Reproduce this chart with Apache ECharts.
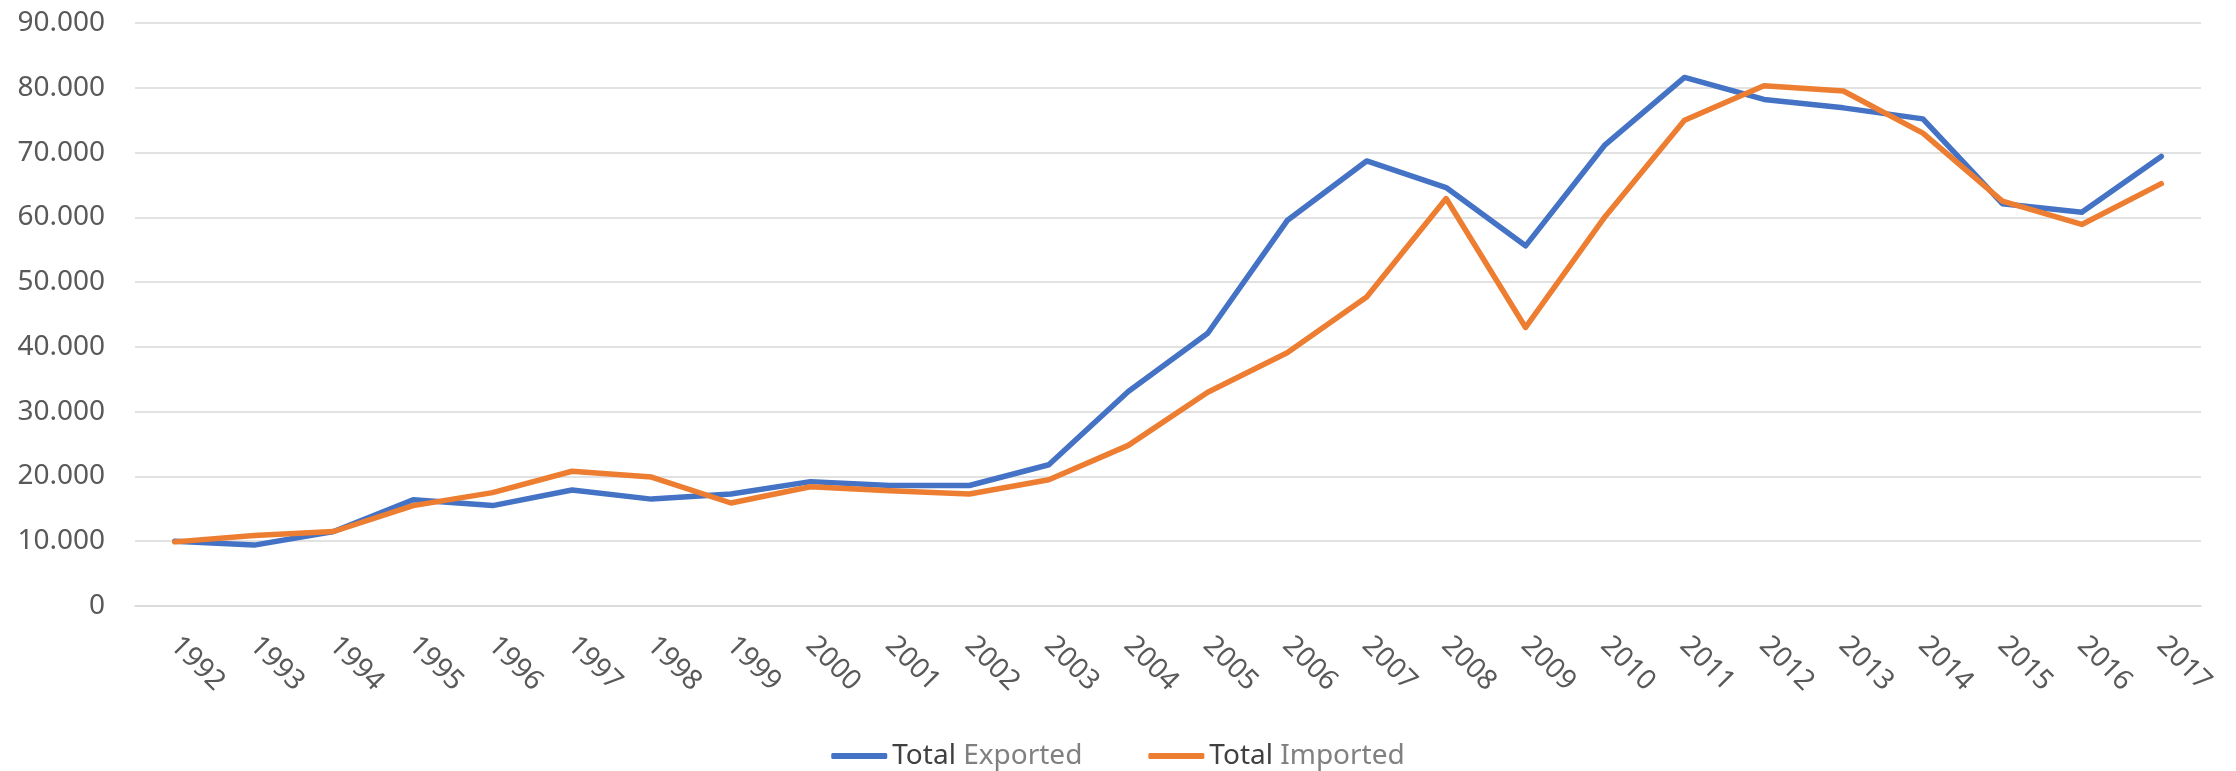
<!DOCTYPE html>
<html>

<head>
  <meta charset="utf-8">
  <title>Total Exported / Imported</title>
  <script src="https://cdn.jsdelivr.net/npm/echarts@6/dist/echarts.min.js"></script>
  <style>
    html, body { margin: 0; padding: 0; background: #fff; }
  </style>
</head>

<body>
  <div id="main" style="width: 2236px;height:771px;"></div>
  <script type="text/javascript">
    var years = ['1992', '1993', '1994', '1995', '1996', '1997', '1998', '1999', '2000', '2001', '2002', '2003', '2004',
      '2005', '2006', '2007', '2008', '2009', '2010', '2011', '2012', '2013', '2014', '2015', '2016', '2017'];

    var exported = [10000, 9400, 11500, 16400, 15500, 17900, 16500, 17300, 19200, 18600, 18600, 21800, 33100,
      42100, 59500, 68700, 64600, 55600, 71200, 81600, 78200, 76900, 75200, 62100, 60800, 69400];

    var imported = [9900, 10900, 11500, 15500, 17500, 20800, 19900, 15900, 18400, 17800, 17300, 19500, 24800,
      33000, 39100, 47700, 62900, 43000, 60100, 75000, 80300, 79500, 73000, 62500, 58900, 65200];

    var yTicks = [0, 10000, 20000, 30000, 40000, 50000, 60000, 70000, 80000, 90000];

    var seriesNames = ['Total Exported', 'Total Imported'];

    var myChart = echarts.init(document.getElementById('main'));

    // 90000 -> "90.000"
    function fmt(v) {
      return String(v).replace(/\B(?=(\d{3})+(?!\d))/g, '.');
    }

    var option = {
      animation: false,
      textStyle: { fontFamily: 'Noto Sans' },
      grid: {
        left: 135,
        right: 35,
        top: 23,
        bottom: 165
      },
      legend: {
        data: seriesNames,
        bottom: -4,
        left: 'center',
        icon: 'roundRect',
        itemWidth: 56,
        itemHeight: 6,
        itemGap: 66,
        formatter: function (name) {
          var parts = name.split(' ');
          return '{a|' + parts[0] + '} {b|' + parts[1] + '}';
        },
        textStyle: {
          fontSize: 28,
          rich: {
            a: { fontSize: 28, color: '#404040', fontFamily: 'Noto Sans' },
            b: { fontSize: 28, color: '#808080', fontFamily: 'Noto Sans' }
          }
        }
      },
      xAxis: {
        type: 'category',
        data: years,
        boundaryGap: true,
        axisLine: { show: true, lineStyle: { color: '#d9d9d9', width: 1.5 } },
        axisTick: { show: false },
        axisLabel: {
          rotate: -45,
          margin: 35,
          interval: 0,
          fontSize: 28,
          color: '#595959'
        }
      },
      yAxis: {
        type: 'value',
        min: yTicks[0],
        max: yTicks[yTicks.length - 1],
        interval: 10000,
        axisLine: { show: false },
        axisTick: { show: false },
        splitLine: { lineStyle: { color: '#d9d9d9', width: 1.5 } },
        axisLabel: {
          margin: 30,
          fontSize: 28,
          color: '#595959',
          formatter: fmt
        }
      },
      series: [{
        name: seriesNames[0],
        type: 'line',
        data: exported,
        symbol: 'none',
        color: '#4472C4',
        lineStyle: { width: 5.5, color: '#4472C4', join: 'round', cap: 'round' }
      }, {
        name: seriesNames[1],
        type: 'line',
        data: imported,
        symbol: 'none',
        color: '#ED7D31',
        lineStyle: { width: 5.5, color: '#ED7D31', join: 'round', cap: 'round' }
      }]
    };

    myChart.setOption(option);
  </script>
</body>

</html>
